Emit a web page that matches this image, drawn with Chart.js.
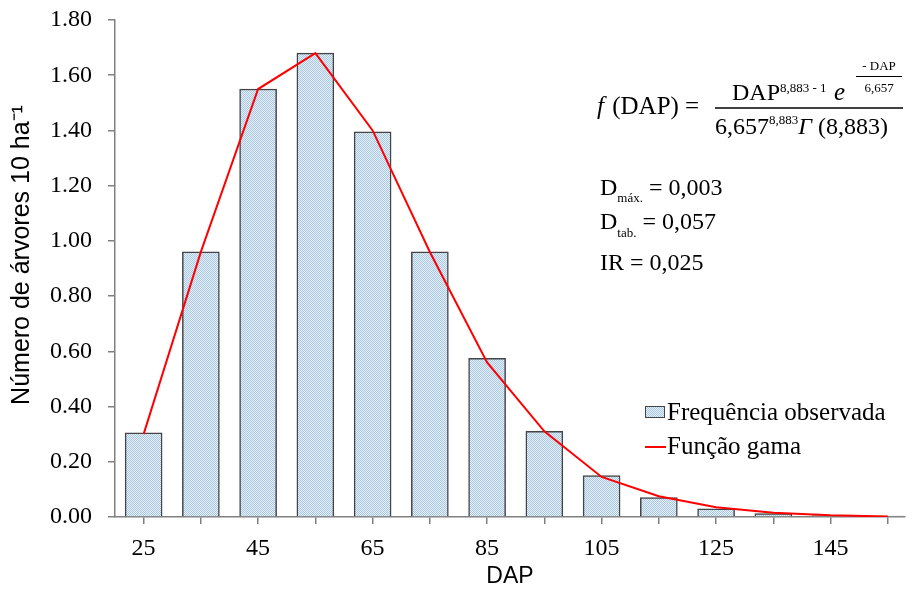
<!DOCTYPE html>
<html>
<head>
<meta charset="utf-8">
<script src="https://cdn.jsdelivr.net/npm/chart.js@4"></script>
<style>
  body { margin: 0; background: #fff; }
  #wrap { width: 912px; height: 590px; }
</style>
</head>
<body>
<div id="wrap"><canvas id="chart"></canvas></div>
<script>
// diameter classes (DAP) and values
const dapClasses = [25, 35, 45, 55, 65, 75, 85, 95, 105, 115, 125, 135, 145, 155];
const observed = [0.305, 0.96, 1.55, 1.68, 1.395, 0.96, 0.575, 0.31, 0.15, 0.07, 0.03, 0.012, 0.005, 0.003];
const gammaFit = [0.30, 0.96, 1.55, 1.68, 1.40, 0.96, 0.56, 0.31, 0.145, 0.075, 0.035, 0.015, 0.006, 0.002];
const yTicks = [0, 0.2, 0.4, 0.6, 0.8, 1.0, 1.2, 1.4, 1.6, 1.8];
const xTickLabels = [25, 45, 65, 85, 105, 125, 145];
const yTitle = 'Número de árvores 10 ha⁻¹';

const serif = "'Liberation Serif', 'Times New Roman', serif";
const sans = "'Liberation Sans', Arial, sans-serif";
const axisGray = '#808080';

function dotPattern() {
  const c = document.createElement('canvas');
  c.width = 2; c.height = 2;
  const g = c.getContext('2d');
  g.fillStyle = '#e6eff8';
  g.fillRect(0, 0, 2, 2);
  g.fillStyle = '#a9c8e6';
  g.fillRect(0, 0, 1, 1);
  g.fillRect(1, 1, 1, 1);
  return g.createPattern(c, 'repeat');
}
const barFill = dotPattern();

// formula, statistics, y title and legend drawn on top
const notes = {
  id: 'notes',
  afterDraw(chart) {
    const ctx = chart.ctx;
    ctx.save();
    ctx.fillStyle = '#000';
    ctx.strokeStyle = '#000';
    ctx.textBaseline = 'alphabetic';
    const put = (t, x, y, size, italic) => {
      ctx.font = (italic ? 'italic ' : '') + size + 'px ' + serif;
      ctx.fillText(t, x, y);
      return x + ctx.measureText(t).width;
    };
    const mid = (t, cx, y, size) => {
      ctx.font = size + 'px ' + serif;
      ctx.fillText(t, cx - ctx.measureText(t).width / 2, y);
    };

    // y axis title
    ctx.save();
    ctx.translate(22, 255);
    ctx.rotate(-Math.PI / 2);
    ctx.font = '25px ' + sans;
    ctx.textAlign = 'center';
    ctx.textBaseline = 'middle';
    ctx.fillText(yTitle, 0, 0);
    ctx.restore();

    let x = put('f', 597, 114, 25, true);
    put(' (DAP) =', x + 2, 114, 25);

    x = put('DAP', 732, 100, 24);
    put('8,883 - 1', x, 92, 13);
    put('e', 834, 100, 25, true);
    mid('- DAP', 879, 70, 13);
    mid('6,657', 879, 92, 13);
    ctx.lineWidth = 1;
    ctx.beginPath(); ctx.moveTo(856, 76.5); ctx.lineTo(902, 76.5); ctx.stroke();

    ctx.lineWidth = 1.5;
    ctx.beginPath(); ctx.moveTo(715, 108); ctx.lineTo(903, 108); ctx.stroke();
    x = put('6,657', 715, 134, 24);
    x = put('8,883', x, 124, 13);
    x = put('Γ', x, 134, 24, true);
    put(' (8,883)', x, 134, 24);

    x = put('D', 600, 195, 24);
    x = put('máx.', x, 202, 13);
    put(' = 0,003', x, 195, 24);
    x = put('D', 600, 229, 24);
    x = put('tab.', x, 237, 13);
    put(' = 0,057', x, 229, 24);
    put('IR = 0,025', 600, 270, 24);

    // legend
    const ds = chart.data.datasets;
    ctx.fillStyle = ds[0].backgroundColor;
    ctx.fillRect(645, 406, 20, 12);
    ctx.strokeStyle = ds[0].borderColor;
    ctx.lineWidth = 1;
    ctx.strokeRect(645.5, 406.5, 19, 11);
    ctx.fillStyle = '#000';
    put(ds[0].label, 667, 420, 25);
    ctx.strokeStyle = ds[1].borderColor;
    ctx.lineWidth = 2;
    ctx.beginPath(); ctx.moveTo(645, 447); ctx.lineTo(666, 447); ctx.stroke();
    put(ds[1].label, 667, 454, 25);
    ctx.restore();
  }
};

new Chart(document.getElementById('chart'), {
  type: 'bar',
  data: {
    datasets: [
      {
        type: 'bar',
        label: 'Frequência observada',
        data: dapClasses.map((d, i) => ({ x: d, y: observed[i] })),
        backgroundColor: barFill,
        borderColor: '#444444',
        borderWidth: 1.5,
        barThickness: 37,
        order: 2
      },
      {
        type: 'line',
        label: 'Função gama',
        data: dapClasses.map((d, i) => ({ x: d, y: gammaFit[i] })),
        borderColor: '#ff0000',
        borderWidth: 2,
        pointRadius: 0,
        tension: 0,
        fill: false,
        order: 1
      }
    ]
  },
  options: {
    responsive: true,
    maintainAspectRatio: false,
    animation: false,
    layout: { padding: { top: 20, right: 7, left: 0, bottom: 0 } },
    plugins: { legend: { display: false }, tooltip: { enabled: false } },
    scales: {
      x: {
        type: 'linear',
        offset: false,
        min: 20,
        max: 158,
        afterBuildTicks: s => { s.ticks = dapClasses.map(v => ({ value: v })); },
        afterFit: s => { s.height = 73; s.paddingLeft = 0; s.paddingRight = 0; },
        ticks: {
          autoSkip: false,
          maxRotation: 0,
          padding: 10,
          color: '#000',
          font: { family: serif, size: 24 },
          callback: v => xTickLabels.includes(v) ? String(v) : ''
        },
        grid: { offset: false, drawOnChartArea: false, drawTicks: true, tickLength: 7, color: axisGray, lineWidth: 1.5 },
        border: { color: axisGray, width: 1.5 },
        title: { display: true, text: 'DAP', color: '#000', font: { family: sans, size: 23 }, padding: { top: 0, bottom: 0 } }
      },
      y: {
        min: 0,
        max: 1.8,
        afterBuildTicks: s => { s.ticks = yTicks.map(v => ({ value: v })); },
        afterFit: s => { s.width = 115; s.paddingTop = 0; s.paddingBottom = 0; },
        ticks: {
          padding: 16,
          color: '#000',
          font: { family: serif, size: 24 },
          callback: v => v.toFixed(2)
        },
        grid: { drawOnChartArea: false, drawTicks: true, tickLength: 7, color: axisGray, lineWidth: 1.5 },
        border: { color: axisGray, width: 1.5 },
        title: { display: false }
      }
    }
  },
  plugins: [notes]
});
</script>
</body>
</html>
